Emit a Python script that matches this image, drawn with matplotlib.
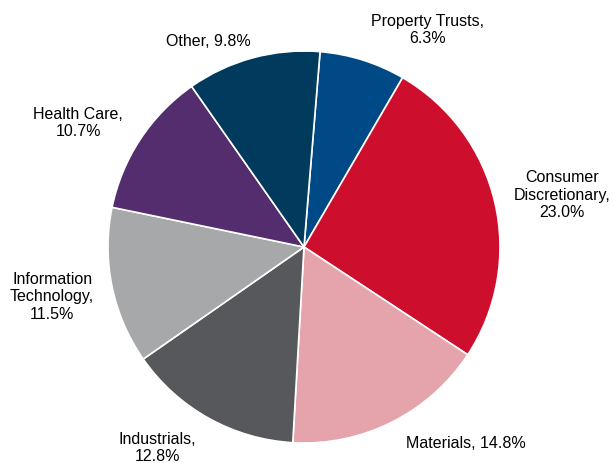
import matplotlib
matplotlib.use("Agg")
import matplotlib.pyplot as plt

plt.rcParams['font.family'] = ['Liberation Sans', 'DejaVu Sans']

sektor = ["Property Trusts,\n6.3%", "Consumer\nDiscretionary,\n23.0%", "Materials, 14.8%",
          "Industrials,\n12.8%", "Information\nTechnology,\n11.5%", "Health Care,\n10.7%",
          "Other, 9.8%"]
bobot = [6.3, 23.0, 14.8, 12.8, 11.5, 10.7, 9.8]
warna = ["#004987", "#CE0E2D", "#E5A4AB", "#57585B", "#A7A8AA", "#532D6D", "#003A5C"]

# posisi label (satuan jari-jari pie)
posisi_label = [(0.628, 1.112), (1.316, 0.27), (0.827, -0.995), (-0.75, -1.02),
                (-1.285, -0.25), (-1.153, 0.638), (-0.49, 1.056)]

fig = plt.figure(figsize=(6.14, 4.64), dpi=100)
ax = fig.add_axes([108 / 614, 20 / 464, 392 / 614, 392 / 464])

wedges, texts = ax.pie(bobot, labels=sektor, colors=warna, startangle=85.3,
                       counterclock=False, normalize=True,
                       wedgeprops=dict(edgecolor='white', linewidth=1.2),
                       textprops=dict(fontsize=11.5, color='black'))

for t, pos in zip(texts, posisi_label):
    t.set_position(pos)
    t.set_ha('center')
    t.set_va('center')
    t.set_multialignment('center')

ax.set_xlim(-1, 1)
ax.set_ylim(-1, 1)
ax.set_aspect('equal')

fig.savefig("out.png", dpi=100)
